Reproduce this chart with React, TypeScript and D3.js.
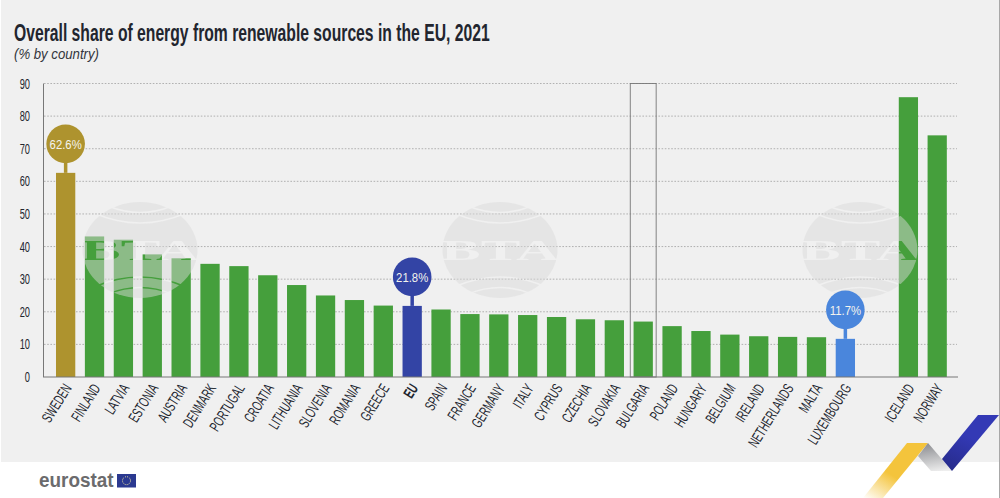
import React, { useEffect, useRef } from "react";
import * as d3 from "d3";

const euCountries = [
  "SWEDEN", "FINLAND", "LATVIA", "ESTONIA", "AUSTRIA", "DENMARK", "PORTUGAL",
  "CROATIA", "LITHUANIA", "SLOVENIA", "ROMANIA", "GREECE", "EU", "SPAIN",
  "FRANCE", "GERMANY", "ITALY", "CYPRUS", "CZECHIA", "SLOVAKIA", "BULGARIA",
  "POLAND", "HUNGARY", "BELGIUM", "IRELAND", "NETHERLANDS", "MALTA", "LUXEMBOURG",
];
const euValues = [
  62.6, 43.1, 42.1, 37.6, 36.4, 34.7, 34.0, 31.2, 28.2, 25.0, 23.6, 21.9, 21.8, 20.7,
  19.3, 19.2, 19.0, 18.4, 17.7, 17.4, 17.0, 15.6, 14.1, 13.0, 12.5, 12.3, 12.2, 11.7,
];
const eftaCountries = ["ICELAND", "NORWAY"];
const eftaValues = [85.8, 74.1];
const yTicks = [0, 10, 20, 30, 40, 50, 60, 70, 80, 90];

const GREEN = "#459f3c";
const highlights: Record<string, { color: string; label: string }> = {
  SWEDEN: { color: "#ae932e", label: "62.6%" },
  EU: { color: "#3344a5", label: "21.8%" },
  LUXEMBOURG: { color: "#4a86dc", label: "11.7%" },
};

const FONT = "'Liberation Sans', sans-serif";
const stamps = [140, 500, 860];

const App: React.FC = () => {
  const svgRef = useRef<SVGSVGElement | null>(null);

  useEffect(() => {
    const svg = d3.select(svgRef.current);
    svg.selectAll("*").remove();

    const y = d3.scaleLinear().domain([0, 90]).range([377, 83.5]);
    const xEu = d3
      .scaleBand<string>()
      .domain(euCountries)
      .range([51.2, 859.8])
      .paddingInner(0.332)
      .paddingOuter(0.166);
    const xEfta = d3
      .scaleBand<string>()
      .domain(eftaCountries)
      .range([894, 951.6])
      .paddingInner(0.332)
      .paddingOuter(0.166);

    const defs = svg.append("defs");
    const yellowGrad = defs
      .append("linearGradient")
      .attr("id", "yellowGrad")
      .attr("x1", "0")
      .attr("y1", "1")
      .attr("x2", "0.6")
      .attr("y2", "0.2");
    yellowGrad.append("stop").attr("offset", "0").attr("stop-color", "#ffffff");
    yellowGrad.append("stop").attr("offset", "0.6").attr("stop-color", "#f4c43c");
    const greyGrad = defs
      .append("linearGradient")
      .attr("id", "greyGrad")
      .attr("x1", "0.5")
      .attr("y1", "0")
      .attr("x2", "0.7")
      .attr("y2", "1");
    greyGrad.append("stop").attr("offset", "0").attr("stop-color", "#8f9094");
    greyGrad.append("stop").attr("offset", "1").attr("stop-color", "#eeeeee");
    const blueGrad = defs
      .append("linearGradient")
      .attr("id", "blueGrad")
      .attr("x1", "0.2")
      .attr("y1", "1")
      .attr("x2", "0.7")
      .attr("y2", "0");
    blueGrad.append("stop").attr("offset", "0").attr("stop-color", "#272c8c");
    blueGrad.append("stop").attr("offset", "0.6").attr("stop-color", "#3339b5");

    // letters and seams are cut out of the stamp
    const mask = defs
      .append("mask")
      .attr("id", "stampMask")
      .attr("maskUnits", "userSpaceOnUse")
      .attr("x", -60)
      .attr("y", -60)
      .attr("width", 120)
      .attr("height", 120);
    mask
      .append("rect")
      .attr("x", -60)
      .attr("y", -60)
      .attr("width", 120)
      .attr("height", 120)
      .attr("fill", "white");
    mask
      .append("text")
      .attr("transform", "translate(0,10) scale(2.05,1)")
      .attr("text-anchor", "middle")
      .attr("font-family", "'Liberation Serif', serif")
      .attr("font-weight", 700)
      .attr("font-size", 29)
      .attr("fill", "black")
      .text("BTA");
    ["M-46 -37 Q0 -17 46 -37", "M-32 -44 Q0 -31 32 -44", "M-46 37 Q0 17 46 37", "M-32 44 Q0 31 32 44"].forEach((d) =>
      mask
        .append("path")
        .attr("d", d)
        .attr("fill", "none")
        .attr("stroke", "black")
        .attr("stroke-width", 1.6)
    );

    // background panel
    svg.append("rect").attr("width", 1000).attr("height", 498).attr("fill", "white");
    svg
      .append("rect")
      .attr("x", 1)
      .attr("width", 998)
      .attr("height", 462)
      .attr("fill", "#f0f0f0");
    svg
      .append("line")
      .attr("x1", 999.5)
      .attr("x2", 999.5)
      .attr("y1", 0)
      .attr("y2", 498)
      .attr("stroke", "#a8a8a8");

    // title
    svg
      .append("text")
      .attr("transform", "translate(14,40.5) scale(0.683,1)")
      .attr("font-family", FONT)
      .attr("font-size", 23)
      .attr("font-weight", 700)
      .attr("fill", "#22252e")
      .text("Overall share of energy from renewable sources in the EU, 2021");
    svg
      .append("text")
      .attr("transform", "translate(14,59) scale(0.88,1)")
      .attr("font-family", FONT)
      .attr("font-size", 15)
      .attr("font-style", "italic")
      .attr("fill", "#33363d")
      .text("(% by country)");

    // grid
    svg
      .append("g")
      .selectAll("line")
      .data(yTicks.slice(1))
      .enter()
      .append("line")
      .attr("x1", 44)
      .attr("x2", 957)
      .attr("y1", (d) => y(d))
      .attr("y2", (d) => y(d))
      .attr("stroke", "#a9a9a9")
      .attr("stroke-width", 0.9)
      .attr("stroke-dasharray", "1.6 1.6");

    // y labels
    svg
      .append("g")
      .selectAll("text")
      .data(yTicks)
      .enter()
      .append("text")
      .attr("transform", (d) => `translate(30,${y(d) + 5}) scale(0.62,1)`)
      .attr("text-anchor", "end")
      .attr("font-family", FONT)
      .attr("font-size", 15)
      .attr("fill", "#22252e")
      .text((d) => d);

    const rows = [
      ...euCountries.map((c, i) => ({ name: c, value: euValues[i], x: xEu(c)!, w: xEu.bandwidth() })),
      ...eftaCountries.map((c, i) => ({ name: c, value: eftaValues[i], x: xEfta(c)!, w: xEfta.bandwidth() })),
    ];

    // bars
    svg
      .append("g")
      .selectAll("rect")
      .data(rows)
      .enter()
      .append("rect")
      .attr("x", (d) => d.x)
      .attr("y", (d) => y(d.value))
      .attr("width", (d) => d.w)
      .attr("height", (d) => y(0) - y(d.value))
      .attr("fill", (d) => highlights[d.name]?.color ?? GREEN);

    // axis lines
    svg
      .append("line")
      .attr("x1", 43.5)
      .attr("x2", 43.5)
      .attr("y1", y(90))
      .attr("y2", y(0))
      .attr("stroke", "#777")
      .attr("stroke-width", 1);
    svg
      .append("line")
      .attr("x1", 43)
      .attr("x2", 958)
      .attr("y1", y(0))
      .attr("y2", y(0))
      .attr("stroke", "#777")
      .attr("stroke-width", 1);

    // Bulgaria frame
    const bgX = xEu("BULGARIA")!;
    svg
      .append("rect")
      .attr("x", bgX - 3.3)
      .attr("y", y(90))
      .attr("width", xEu.bandwidth() + 6.6)
      .attr("height", y(0) - y(90))
      .attr("fill", "none")
      .attr("stroke", "#777")
      .attr("stroke-width", 0.9);

    // watermark stamps
    const stamp = svg
      .append("g")
      .selectAll("g")
      .data(stamps)
      .enter()
      .append("g")
      .attr("transform", (d) => `translate(${d},250)`);
    stamp
      .append("ellipse")
      .attr("rx", 57.5)
      .attr("ry", 48)
      .attr("fill", "#dadada")
      .attr("fill-opacity", 0.48)
      .attr("mask", "url(#stampMask)");

    // callouts
    const callouts = rows.filter((d) => highlights[d.name]);
    const callout = svg
      .append("g")
      .selectAll("g")
      .data(callouts)
      .enter()
      .append("g")
      .attr("transform", (d) => `translate(${d.x + d.w / 2},${y(d.value) - 29})`);
    callout
      .append("line")
      .attr("y1", 10)
      .attr("y2", 29)
      .attr("stroke", (d) => highlights[d.name].color)
      .attr("stroke-width", 3.5);
    callout
      .append("circle")
      .attr("r", 19.3)
      .attr("fill", (d) => highlights[d.name].color);
    callout
      .append("text")
      .attr("transform", "translate(0,4.8) scale(0.84,1)")
      .attr("text-anchor", "middle")
      .attr("font-family", FONT)
      .attr("font-size", 13.5)
      .attr("fill", "#f4f4ee")
      .text((d) => highlights[d.name].label);

    // x labels
    svg
      .append("g")
      .selectAll("text")
      .data(rows)
      .enter()
      .append("text")
      .attr(
        "transform",
        (d) => `translate(${d.x + d.w / 2 + 6.5},${y(0) + 11}) rotate(-58) scale(0.64,1)`
      )
      .attr("text-anchor", "end")
      .attr("font-family", FONT)
      .attr("font-size", 15)
      .attr("font-weight", (d) => (d.name === "EU" ? 700 : 400))
      .attr("fill", "#22252e")
      .text((d) => d.name);

    // eurostat logo
    svg
      .append("text")
      .attr("transform", "translate(39,487) scale(0.97,1)")
      .attr("font-family", FONT)
      .attr("font-weight", 700)
      .attr("font-size", 19.5)
      .attr("fill", "#6b6b6d")
      .text("eurostat");
    svg
      .append("rect")
      .attr("x", 117)
      .attr("y", 474)
      .attr("width", 19)
      .attr("height", 13.5)
      .attr("fill", "#2b3990");
    svg
      .append("circle")
      .attr("cx", 126.5)
      .attr("cy", 480.7)
      .attr("r", 4)
      .attr("fill", "none")
      .attr("stroke", "#f4e9a0")
      .attr("stroke-width", 1)
      .attr("stroke-dasharray", "1 1.1");

    // corner ribbon
    const line = d3.line();
    svg
      .append("path")
      .attr("d", line([[863, 498], [907, 443], [928, 443], [883, 498]])! + "Z")
      .attr("fill", "url(#yellowGrad)");
    svg
      .append("path")
      .attr("d", line([[918, 456], [928, 443], [952, 471], [931, 471]])! + "Z")
      .attr("fill", "url(#greyGrad)");
    svg
      .append("path")
      .attr("d", line([[942, 459], [978, 415], [999, 415], [952, 471]])! + "Z")
      .attr("fill", "url(#blueGrad)");
  }, []);

  return (
    <svg
      ref={svgRef}
      width={1000}
      height={498}
      style={{ position: "absolute", left: 0, top: 0 }}
    ></svg>
  );
};

export default App;
